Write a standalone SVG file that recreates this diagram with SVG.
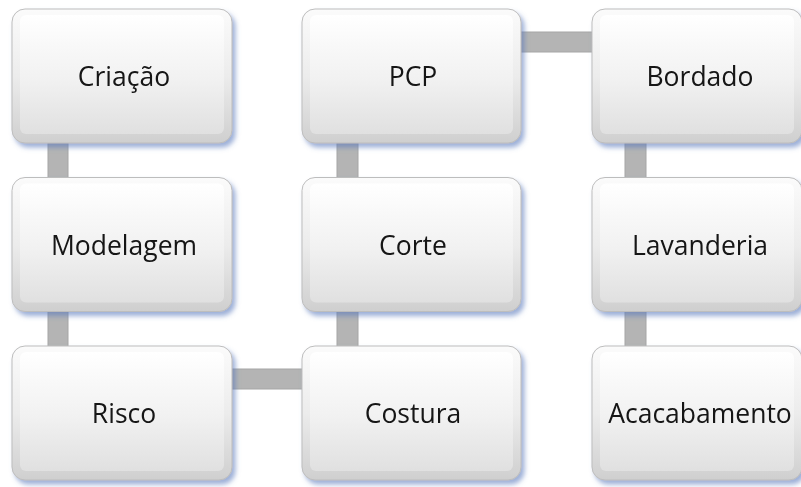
<svg xmlns="http://www.w3.org/2000/svg" width="801" height="487" viewBox="0 0 801 487">
  <defs>
    <linearGradient id="face" x1="0" y1="0" x2="0" y2="1">
      <stop offset="0" stop-color="#fbfbfb"/>
      <stop offset="0.5" stop-color="#ececec"/>
      <stop offset="1" stop-color="#cfcfcf"/>
    </linearGradient>
    <linearGradient id="inner" x1="0" y1="0" x2="0" y2="1">
      <stop offset="0" stop-color="#ffffff"/>
      <stop offset="0.55" stop-color="#f1f1f1"/>
      <stop offset="1" stop-color="#e0e0e0"/>
    </linearGradient>
    <filter id="shadow" x="-10%" y="-10%" width="125%" height="130%">
      <feGaussianBlur in="SourceAlpha" stdDeviation="2.5"/>
      <feOffset dx="3" dy="4" result="off"/>
      <feFlood flood-color="#5a7abd" flood-opacity="0.6"/>
      <feComposite in2="off" operator="in" result="sh"/>
      <feMerge>
        <feMergeNode in="sh"/>
        <feMergeNode in="SourceGraphic"/>
      </feMerge>
    </filter>
    <style>
      .box { fill: url(#face); stroke: #bdbdbd; stroke-width: 1; }
      .bevel { fill: url(#inner); }
      .lbl { font-family: "Open Sans", "Liberation Sans", sans-serif; font-size: 26.5px; fill: #141414; text-anchor: middle; }
      .link { fill: #b4b4b4; stroke: #a6a6a6; stroke-width: 1; }
    </style>
  </defs>
  <rect width="801" height="487" fill="#ffffff"/>

  <!-- connectors between the process steps -->
  <g id="connectors">
    <rect class="link" x="48" y="140" width="20" height="42"/>
    <rect class="link" x="48" y="308" width="20" height="42"/>
    <rect class="link" x="228" y="369" width="78" height="20"/>
    <rect class="link" x="337" y="308" width="21" height="42"/>
    <rect class="link" x="337" y="140" width="21" height="42"/>
    <rect class="link" x="517" y="32" width="79" height="20"/>
    <rect class="link" x="625" y="140" width="21" height="42"/>
    <rect class="link" x="625" y="308" width="21" height="42"/>
  </g>

  <!-- column 1 -->
  <g id="criacao" filter="url(#shadow)">
    <rect class="box" x="12" y="9" width="220" height="134" rx="13"/>
    <rect class="bevel" x="20" y="15" width="204" height="119" rx="6"/>
    <text class="lbl" x="124" y="86">Criação</text>
  </g>
  <g id="modelagem" filter="url(#shadow)">
    <rect class="box" x="12" y="177.5" width="220" height="134" rx="13"/>
    <rect class="bevel" x="20" y="183.5" width="204" height="119" rx="6"/>
    <text class="lbl" x="124" y="254.5">Modelagem</text>
  </g>
  <g id="risco" filter="url(#shadow)">
    <rect class="box" x="12" y="346" width="220" height="134" rx="13"/>
    <rect class="bevel" x="20" y="352" width="204" height="119" rx="6"/>
    <text class="lbl" x="124" y="423">Risco</text>
  </g>

  <!-- column 2 -->
  <g id="pcp" filter="url(#shadow)">
    <rect class="box" x="302" y="9" width="219" height="134" rx="13"/>
    <rect class="bevel" x="310" y="15" width="203" height="119" rx="6"/>
    <text class="lbl" x="413" y="86">PCP</text>
  </g>
  <g id="corte" filter="url(#shadow)">
    <rect class="box" x="302" y="177.5" width="219" height="134" rx="13"/>
    <rect class="bevel" x="310" y="183.5" width="203" height="119" rx="6"/>
    <text class="lbl" x="413" y="254.5">Corte</text>
  </g>
  <g id="costura" filter="url(#shadow)">
    <rect class="box" x="302" y="346" width="219" height="134" rx="13"/>
    <rect class="bevel" x="310" y="352" width="203" height="119" rx="6"/>
    <text class="lbl" x="413" y="423">Costura</text>
  </g>

  <!-- column 3 -->
  <g id="bordado" filter="url(#shadow)">
    <rect class="box" x="592" y="9" width="210" height="134" rx="13"/>
    <rect class="bevel" x="600" y="15" width="194" height="119" rx="6"/>
    <text class="lbl" x="700" y="86">Bordado</text>
  </g>
  <g id="lavanderia" filter="url(#shadow)">
    <rect class="box" x="592" y="177.5" width="210" height="134" rx="13"/>
    <rect class="bevel" x="600" y="183.5" width="194" height="119" rx="6"/>
    <text class="lbl" x="700" y="254.5">Lavanderia</text>
  </g>
  <g id="acabamento" filter="url(#shadow)">
    <rect class="box" x="592" y="346" width="210" height="134" rx="13"/>
    <rect class="bevel" x="600" y="352" width="194" height="119" rx="6"/>
    <text class="lbl" x="700" y="423">Acacabamento</text>
  </g>
</svg>
